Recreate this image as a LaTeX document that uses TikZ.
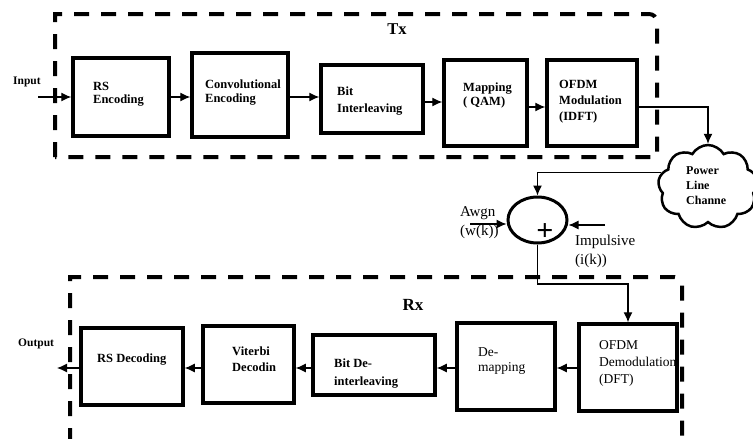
\documentclass[tikz,border=0pt]{standalone}
\usepackage{fontspec}
\setmainfont{Liberation Serif}
\usetikzlibrary{arrows.meta,shapes.geometric,shapes.symbols}
\begin{document}
\begin{tikzpicture}[x=1pt,y=-1pt,
  blk/.style={draw,line width=3.5pt,rectangle,inner sep=0pt},
  txt/.style={anchor=west,align=left,inner sep=0pt,font=\fontsize{12.5}{#1}\selectfont\bfseries},
  txt/.default=14,
  rtxt/.style={anchor=west,align=left,inner sep=0pt,font=\fontsize{13.5}{#1}\selectfont},
  rtxt/.default=16,
  lbl/.style={anchor=west,align=left,inner sep=0pt,font=\fontsize{15}{19}\selectfont},
  conn/.style={line width=1.2pt,-{Latex[length=10pt,width=9pt]}},
  dashbox/.style={line width=4pt,dash pattern=on 15pt off 12pt},
]
\useasboundingbox (0,0) rectangle (753,439);

% dashed frames
\draw[dashbox] (55,157) -- (55,14) -- (649,14) to[out=0,in=90] (657,22) -- (657,157) -- cycle;
\draw[dashbox] (70,470) -- (70,277) -- (674,277) to[out=0,in=90] (682,285) -- (682,470);
\node[font=\fontsize{16.5}{18}\selectfont\bfseries,inner sep=0pt] (txl) at (397,29) {Tx};
\node[font=\fontsize{17}{18}\selectfont\bfseries,inner sep=0pt] (rxl) at (413,305) {Rx};

% Tx blocks
\node[blk,minimum width=96pt,minimum height=78pt] (rs) at (121,97) {};
\node[blk,minimum width=96pt,minimum height=84pt] (conv) at (240,95) {};
\node[blk,minimum width=102pt,minimum height=68pt] (bit) at (372,99) {};
\node[blk,minimum width=83pt,minimum height=86pt] (map) at (485.5,103) {};
\node[blk,minimum width=90pt,minimum height=86pt] (ofdm) at (592,103) {};

\node[txt=13] (rst) at (93,94) {RS\\Encoding};
\node[txt=14] (convt) at (205,93) {Convolutional\\Encoding};
\node[txt=17] (bitt) at (337,101.5) {Bit\\Interleaving};
\node[txt=14] (mapt) at (463,95) {Mapping\\( QAM)};
\node[txt=16] (ofdmt) at (559,102) {OFDM\\Modulation\\(IDFT)};

% Rx blocks
\node[blk,minimum width=98pt,minimum height=87pt] (dem) at (628,367.5) {};
\node[blk,minimum width=98pt,minimum height=87pt] (demap) at (506,366.5) {};
\node[blk,minimum width=122pt,minimum height=60pt] (bdi) at (374,365) {};
\node[blk,minimum width=91pt,minimum height=77pt] (vit) at (248.5,364.5) {};
\node[blk,minimum width=102pt,minimum height=77pt] (rsd) at (132,366.5) {};

\node[rtxt=17] (demt) at (599,363) {OFDM\\Demodulation\\(DFT)};
\node[rtxt=15] (demapt) at (478,361.5) {De-\\mapping};
\node[txt=18] (bdit) at (334,374) {Bit De-\\interleaving};
\node[txt=16] (vitt) at (232,359) {Viterbi\\Decodin};
\node[txt] (rsdt) at (97,360) {RS Decoding};

% channel
\node[cloud,draw,line width=2.5pt,cloud puffs=9,cloud puff arc=120,aspect=1.2,
      minimum width=100pt,minimum height=84pt,inner sep=0pt] (cloud) at (708,187) {};
\node[txt=15,font=\fontsize{12}{15}\selectfont\bfseries] (cloudt) at (686,186) {Power\\Line\\Channe};

% summation
\node[ellipse,draw,line width=3pt,minimum width=59pt,minimum height=46pt,inner sep=0pt] (sum) at (537.5,220) {};
\node[inner sep=0pt,font=\fontsize{30}{30}\selectfont\bfseries] (plus) at (545,232) {+};

% labels
\node[txt,font=\fontsize{11.5}{13}\selectfont\bfseries] (inl) at (13,82) {Input};
\node[txt,font=\fontsize{11.5}{13}\selectfont\bfseries] (outl) at (18,344) {Output};
\node[lbl] (awl) at (460,223) {Awgn\\(w(k))};
\node[lbl] (impl) at (575,251) {Impulsive\\(i(k))};

% coordinates
\coordinate (in) at (38,97);
\coordinate (out) at (57,368);
\coordinate (ya) at (0,97);
\coordinate (yb) at (0,102);
\coordinate (yc) at (0,107);
\coordinate (yr) at (0,368);
\coordinate (aw) at (470,224);
\coordinate (imp) at (605,225);
\coordinate (bend) at (537.5,284);

% Tx connectors
\draw[conn] (in) -- (rs.west |- in);
\draw[conn] (rs.east |- ya) -- (conv.west |- ya);
\draw[conn] (conv.east |- ya) -- (bit.west |- ya);
\draw[conn] (bit.east |- yb) -- (map.west |- yb);
\draw[conn] (map.east |- yc) -- (ofdm.west |- yc);
\draw[conn] (ofdm.east |- yc) -| (cloud.north);
\draw[conn] (cloud.163) -| (sum.north);
\draw[conn] (aw) -- (sum.west |- aw);
\draw[conn] (imp) -- (sum.east |- imp);
\draw[conn] (sum.south) -- (bend) -| (dem.north);

% Rx connectors
\draw[conn] (dem.west |- yr) -- (demap.east |- yr);
\draw[conn] (demap.west |- yr) -- (bdi.east |- yr);
\draw[conn] (bdi.west |- yr) -- (vit.east |- yr);
\draw[conn] (vit.west |- yr) -- (rsd.east |- yr);
\draw[conn] (rsd.west |- yr) -- (out);
\end{tikzpicture}
\end{document}
